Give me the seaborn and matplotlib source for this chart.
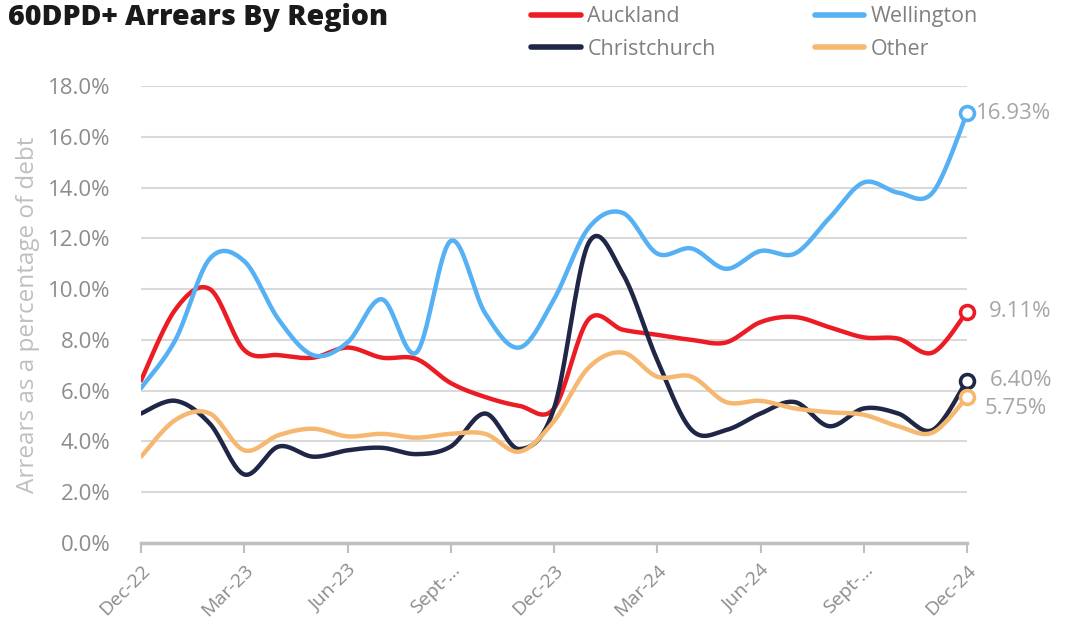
import numpy as np
import pandas as pd
import matplotlib
matplotlib.use("Agg")
import matplotlib.pyplot as plt
import seaborn as sns

months = ["Dec-22", "Jan-23", "Feb-23", "Mar-23", "Apr-23", "May-23", "Jun-23", "Jul-23",
          "Aug-23", "Sept-23", "Oct-23", "Nov-23", "Dec-23", "Jan-24", "Feb-24", "Mar-24",
          "Apr-24", "May-24", "Jun-24", "Jul-24", "Aug-24", "Sept-24", "Oct-24", "Nov-24", "Dec-24"]
tick_labels = ["Dec-22", "Mar-23", "Jun-23", "Sept-...", "Dec-23", "Mar-24", "Jun-24", "Sept-...", "Dec-24"]

auckland = [6.4, 9.2, 10.0, 7.6, 7.4, 7.3, 7.7, 7.3, 7.25, 6.3, 5.75, 5.4, 5.3,
            8.8, 8.4, 8.2, 8.0, 7.9, 8.7, 8.9, 8.5, 8.1, 8.05, 7.5, 9.11]
wellington = [6.1, 8.0, 11.2, 11.1, 8.8, 7.4, 7.9, 9.6, 7.5, 11.9, 9.05, 7.7, 9.6,
              12.4, 13.0, 11.4, 11.6, 10.8, 11.5, 11.4, 12.8, 14.2, 13.8, 13.8, 16.93]
christchurch = [5.1, 5.6, 4.7, 2.7, 3.8, 3.4, 3.65, 3.75, 3.5, 3.8, 5.1, 3.7, 5.3,
                11.8, 10.6, 7.2, 4.45, 4.45, 5.1, 5.55, 4.6, 5.3, 5.1, 4.45, 6.40]
other = [3.4, 4.85, 5.1, 3.65, 4.25, 4.5, 4.2, 4.3, 4.15, 4.3, 4.3, 3.6, 4.8,
         6.9, 7.5, 6.55, 6.55, 5.55, 5.6, 5.3, 5.15, 5.05, 4.6, 4.35, 5.75]

series = {"Auckland": auckland, "Wellington": wellington,
          "Christchurch": christchurch, "Other": other}
colors = {"Auckland": "#EC1C24", "Wellington": "#55B1F3",
          "Christchurch": "#1F2646", "Other": "#F6B871"}


def smooth(y, n=20):
    # Bezier smoothing like spreadsheet "smoothed line"
    y = np.asarray(y, float)
    x = np.arange(len(y), dtype=float)
    px = np.concatenate([[x[0]], x, [x[-1]]])
    py = np.concatenate([[y[0]], y, [y[-1]]])
    xs, ys = [], []
    t = np.linspace(0, 1, n, endpoint=False)
    for i in range(1, len(px) - 2):
        p0, p1, p2, p3 = (np.array([px[j], py[j]]) for j in (i - 1, i, i + 1, i + 2))
        c1 = p1 + (p2 - p0) / 6
        c2 = p2 - (p3 - p1) / 6
        pts = ((1 - t) ** 3)[:, None] * p1 + (3 * (1 - t) ** 2 * t)[:, None] * c1 \
            + (3 * (1 - t) * t ** 2)[:, None] * c2 + (t ** 3)[:, None] * p2
        xs.extend(pts[:, 0]); ys.extend(pts[:, 1])
    xs.append(x[-1]); ys.append(y[-1])
    return np.array(xs), np.array(ys)


frames = []
for name, vals in series.items():
    sx, sy = smooth(vals)
    frames.append(pd.DataFrame({"x": sx, "y": sy, "Region": name}))
df = pd.concat(frames, ignore_index=True)

sns.set_style("white")
plt.rcParams["font.family"] = ["Open Sans", "DejaVu Sans"]

fig = plt.figure(figsize=(10.84, 6.33), dpi=100)
ax = fig.add_axes([141 / 1084, 1 - 543 / 633, (967 - 141) / 1084, (543 - 86) / 633])

sns.lineplot(data=df, x="x", y="y", hue="Region", palette=colors, sort=False,
             linewidth=3.2, ax=ax, legend=False, zorder=3)

grey = "#A6A6A6"
last = len(months) - 1
label_pos = {"Wellington": (0.25, 0.0), "Auckland": (0.65, 0.0),
             "Christchurch": (0.65, 0.0), "Other": (0.5, -0.45)}
for name, vals in series.items():
    ax.plot(last, vals[-1], "o", ms=10, mfc="white", mec=colors[name], mew=2.6,
            zorder=5, clip_on=False)
    dx, dy = label_pos[name]
    ax.text(last + dx, vals[-1] + dy, f"{vals[-1]:.2f}%", color=grey, fontsize=16,
            va="center", ha="left", clip_on=False)

ax.set_xlim(0, last)
ax.set_ylim(0, 18)
ax.set_yticks(np.arange(0, 18.1, 2))
ax.set_yticklabels([f"{v:.1f}%" for v in np.arange(0, 18.1, 2)], color="#8C8C8C", fontsize=16)
ax.set_xticks(range(0, len(months), 3))
ax.set_xticklabels(tick_labels, rotation=45, ha="right", rotation_mode="anchor",
                   color="#8C8C8C", fontsize=14)
ax.grid(axis="y", color="#D9D9D9", linewidth=1.5)
ax.set_axisbelow(True)
for s in ["top", "right", "left"]:
    ax.spines[s].set_visible(False)
ax.spines["bottom"].set_color("#BFBFBF")
ax.spines["bottom"].set_linewidth(2.5)
ax.tick_params(axis="x", length=7, width=1.5, color="#BFBFBF", pad=6, bottom=True)
ax.tick_params(axis="y", length=0, pad=22)
ax.set_xlabel("")
ax.set_ylabel("Arrears as a percentage of debt", color="#BFBFBF", fontsize=17.5, labelpad=6)

fig.text(8 / 1084, 1 - 18 / 633, "60DPD+ Arrears By Region", fontsize=20.5,
         fontweight="heavy", color="#1A1A1A", va="center", ha="left")

order = ["Auckland", "Christchurch", "Wellington", "Other"]
handles = [plt.Line2D([], [], color=colors[n], lw=4, solid_capstyle="round") for n in order]
fig.legend(handles, order, ncol=2, loc="upper left",
           bbox_to_anchor=(512 / 1084, 1 + 13 / 633), frameon=False, fontsize=15.5,
           labelcolor="#808080", handlelength=2.3, handletextpad=0.3,
           columnspacing=4.6, labelspacing=0.53)

fig.savefig("out.png", dpi=100)
